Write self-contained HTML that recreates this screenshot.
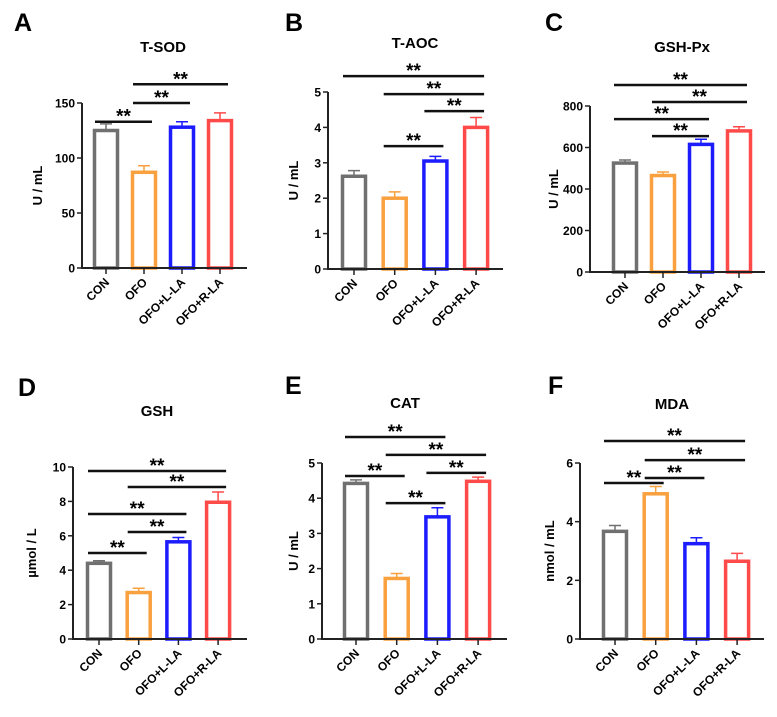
<!DOCTYPE html>
<html><head><meta charset="utf-8"><style>
html,body{margin:0;padding:0;background:#fff}
svg{display:block;font-family:"Liberation Sans",Arial,sans-serif;font-weight:bold}
</style></head><body>
<svg id="fig" width="777" height="717" viewBox="0 0 777 717" xmlns="http://www.w3.org/2000/svg"></svg>
<script>
const categories = ["CON","OFO","OFO+L-LA","OFO+R-LA"];
const colors = ["#707070","#f9a03f","#1c1cff","#ff4a4a"];
const valuesA = [125,87,128,134];   const errA = [131,93,133,141];
const valuesB = [2.62,2.0,3.05,4.0]; const errB = [2.78,2.18,3.18,4.28];
const valuesC = [525,465,615,680];  const errC = [540,482,640,700];
const valuesD = [4.4,2.7,5.65,7.95]; const errD = [4.55,2.95,5.9,8.55];
const valuesE = [4.42,1.72,3.47,4.48]; const errE = [4.52,1.86,3.73,4.6];
const valuesF = [3.67,4.95,3.25,2.65]; const errF = [3.87,5.2,3.45,2.92];
const ticksA = [0,50,100,150];
const ticksB = [0,1,2,3,4,5];
const ticksC = [0,200,400,600,800];
const ticksD = [0,2,4,6,8,10];
const ticksE = [0,1,2,3,4,5];
const ticksF = [0,2,4,6];
const sigA = [[0,1,133],[1,2,150],[1,3,167]];
const sigB = [[0,3,5.45],[1,3,4.94],[2,3,4.46],[1,2,3.47]];
const sigC = [[0,3,901],[1,3,819],[0,2,737],[1,2,655]];
const sigD = [[0,3,9.77],[1,3,8.84],[0,2,7.27],[1,2,6.22],[0,1,5.0]];
const sigE = [[0,2,5.74],[1,3,5.23],[0,1,4.63],[2,3,4.72],[1,2,3.86]];
const sigF = [[0,3,6.75],[1,3,6.10],[1,2,5.49],[0,1,5.32]];

const panels = [
 {id:"a",letter:"A",title:"T-SOD",ylab:"U / mL",vals:valuesA,errs:errA,ticks:ticksA,sig:sigA,ax:82,y0:268,yTop:103,x0:106,dx:38,xEnd:247,lx:14,ly:31,tx:163,ty:52,ylx:42},
 {id:"b",letter:"B",title:"T-AOC",ylab:"U / mL",vals:valuesB,errs:errB,ticks:ticksB,sig:sigB,ax:328,y0:269,yTop:92,x0:354,dx:40.7,xEnd:503,lx:285,ly:31,tx:415,ty:48,ylx:298},
 {id:"c",letter:"C",title:"GSH-Px",ylab:"U / mL",vals:valuesC,errs:errC,ticks:ticksC,sig:sigC,ax:590,y0:272,yTop:106,x0:625,dx:38,xEnd:765,lx:545,ly:31,tx:682,ty:52,ylx:558},
 {id:"d",letter:"D",title:"GSH",ylab:"µmol / L",vals:valuesD,errs:errD,ticks:ticksD,sig:sigD,ax:73,y0:639,yTop:467,x0:99,dx:39.7,xEnd:247,lx:18,ly:396,tx:157,ty:416,ylx:36},
 {id:"e",letter:"E",title:"CAT",ylab:"U / mL",vals:valuesE,errs:errE,ticks:ticksE,sig:sigE,ax:322,y0:639,yTop:463,x0:356,dx:40.7,xEnd:507,lx:285,ly:394,tx:405,ty:408,ylx:298},
 {id:"f",letter:"F",title:"MDA",ylab:"nmol / mL",vals:valuesF,errs:errF,ticks:ticksF,sig:sigF,ax:580,y0:639,yTop:463,x0:615,dx:40.7,xEnd:764,lx:548,ly:394,tx:672,ty:409,ylx:554}
];
const NS="http://www.w3.org/2000/svg";
const svg=document.getElementById("fig");
function mk(tag,attrs,parent,text){const e=document.createElementNS(NS,tag);for(const k in attrs)e.setAttribute(k,attrs[k]);if(text!==undefined)e.textContent=text;parent.appendChild(e);return e;}
panels.forEach(p=>{
  const g=mk("g",{},svg);
  
  
  const tmax=p.ticks[p.ticks.length-1];
  const y=v=>p.y0-(v/tmax)*(p.y0-p.yTop);
  const x=i=>p.x0+i*p.dx;
  let t=mk("text",{x:p.lx,y:p.ly,"font-size":25},g,p.letter);
  
  
  t=mk("text",{x:p.tx,y:p.ty,"font-size":15,"text-anchor":"middle"},g,p.title);
  
  
  const cy=(p.y0+p.yTop)/2;
  t=mk("text",{x:p.ylx,y:cy,"font-size":13,"text-anchor":"middle",transform:`rotate(-90 ${p.ylx} ${cy})`},g,p.ylab);
  
  
  p.vals.forEach((v,i)=>{
    const bw=23, cx=x(i);
    const r=mk("rect",{x:cx-bw/2,y:y(v),width:bw,height:p.y0-y(v),fill:"none",stroke:colors[i],"stroke-width":3.5},g);
    
    
    const e=mk("path",{d:`M${cx} ${y(v)}V${y(p.errs[i])}M${cx-6} ${y(p.errs[i])}H${cx+6}`,stroke:colors[i],"stroke-width":1.5,fill:"none"},g);
    
    
    const tk=mk("line",{x1:cx,x2:cx,y1:p.y0,y2:p.y0+6,stroke:"#222","stroke-width":1.5},g);
    
    
    const lx=cx+4, ly=p.y0+15;
    const lb=mk("text",{x:lx,y:ly,"font-size":12,"text-anchor":"end",transform:`rotate(-45 ${lx} ${ly})`},g,categories[i]);
    
    
  });
  const ax=mk("path",{d:`M${p.ax} ${p.yTop}V${p.y0}H${p.xEnd}`,stroke:"#222","stroke-width":2,fill:"none"},g);
  
  
  p.ticks.forEach(tv=>{
    const l=mk("line",{x1:p.ax-5,x2:p.ax,y1:y(tv),y2:y(tv),stroke:"#222","stroke-width":1.5},g);
    
    
    const tl=mk("text",{x:p.ax-7,y:y(tv)+4.5,"font-size":12,"text-anchor":"end"},g,String(tv));
    
    
  });
  p.sig.forEach(([a,b,lv])=>{
    const x1=x(a)-11, x2=x(b)+8, yy=y(lv);
    const l=mk("line",{x1:x1,x2:x2,y1:yy,y2:yy,stroke:"#111","stroke-width":2.5},g);
    
    
    const s=mk("text",{x:(x1+x2)/2,y:yy+1,"font-size":19,"text-anchor":"middle"},g,"**");
    
    
  });
});
</script>
</body></html>
